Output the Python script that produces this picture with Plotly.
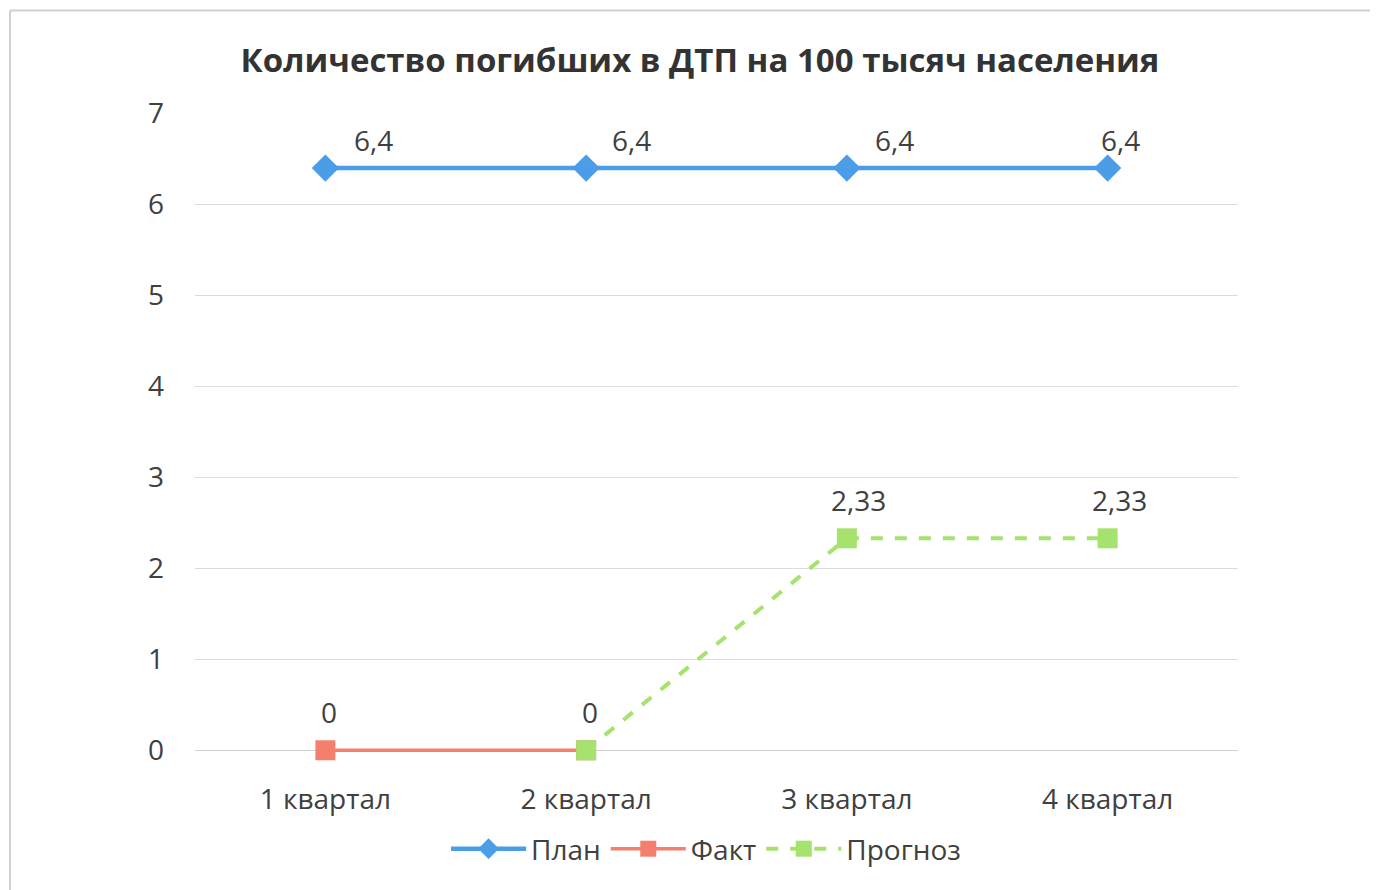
import plotly.graph_objects as go

categories = ["1 квартал", "2 квартал", "3 квартал", "4 квартал"]
plan = [6.4, 6.4, 6.4, 6.4]
fact = [0, 0, None, None]
forecast = [None, 0, 2.33, 2.33]
plan_labels = ["6,4", "6,4", "6,4", "6,4"]
fact_labels = ["0", "0", None, None]
forecast_labels = [None, None, "2,33", "2,33"]
title = "Количество погибших в ДТП на 100 тысяч населения"

FONT = "Open Sans"
TXT = "#404040"
C_PLAN = "#4A9DE6"
C_FACT = "#F47F6C"
C_FC = "#A6E26E"

x = list(range(len(categories)))

fig = go.Figure()
fig.add_trace(go.Scatter(x=x, y=plan, name="План", mode="lines+markers", cliponaxis=False,
                         line=dict(color=C_PLAN, width=4.5),
                         marker=dict(symbol="diamond", size=21, color=C_PLAN)))
fig.add_trace(go.Scatter(x=x, y=fact, name="Факт", mode="lines+markers", cliponaxis=False,
                         line=dict(color=C_FACT, width=3.5),
                         marker=dict(symbol="square", size=20, color=C_FACT)))
fig.add_trace(go.Scatter(x=x, y=forecast, name="Прогноз", mode="lines+markers", cliponaxis=False,
                         line=dict(color=C_FC, width=4, dash="dash"),
                         marker=dict(symbol="square", size=20, color=C_FC)))

annotations = []
plan_xshift = [48, 45, 48, 13]
for i, (v, t) in enumerate(zip(plan, plan_labels)):
    if t is not None:
        annotations.append(dict(x=x[i], y=v, text=t, showarrow=False, xshift=plan_xshift[i], yshift=28,
                                font=dict(family=FONT, size=28, color=TXT)))
for i, (v, t) in enumerate(zip(fact, fact_labels)):
    if t is not None:
        annotations.append(dict(x=x[i], y=v, text=t, showarrow=False, xshift=4, yshift=38,
                                font=dict(family=FONT, size=28, color=TXT)))
for i, (v, t) in enumerate(zip(forecast, forecast_labels)):
    if t is not None:
        annotations.append(dict(x=x[i], y=v, text=t, showarrow=False, xshift=12, yshift=38,
                                font=dict(family=FONT, size=28, color=TXT)))

fig.update_layout(
    width=1378, height=890,
    margin=dict(l=187, r=148, t=105, b=145),
    paper_bgcolor="white", plot_bgcolor="white",
    title=dict(text=f"<b>{title}</b>", x=692 / 1378, xanchor="center", y=1 - 52 / 890, yanchor="middle",
               font=dict(family=FONT, size=33, color="#333333")),
    xaxis=dict(tickmode="array", tickvals=x, ticktext=categories, range=[-0.5, 3.5],
               showgrid=False, zeroline=False, showline=False, ticks="",
               ticklabelstandoff=27,
               tickfont=dict(family=FONT, size=28, color=TXT)),
    yaxis=dict(range=[-0.03, 7.005], tickvals=[0, 1, 2, 3, 4, 5, 6, 7], showgrid=True, gridcolor="#DCDCDC", gridwidth=1,
               zeroline=True, zerolinecolor="#D0D0D0", zerolinewidth=1, ticks="",
               ticklabelstandoff=30,
               tickfont=dict(family=FONT, size=28, color=TXT)),
    legend=dict(orientation="h", x=0.49, xanchor="center", y=-0.15, yanchor="middle",
                font=dict(family=FONT, size=28, color=TXT), itemwidth=75),
    showlegend=True,
    annotations=annotations,
    shapes=[
        dict(type="line", xref="paper", yref="paper", x0=-0.1774, x1=1.15, y0=1.16, y1=1.16,
             line=dict(color="#D0D0D0", width=2)),
        dict(type="line", xref="paper", yref="paper", x0=-0.1774, x1=-0.1774, y0=1.16, y1=-0.25,
             line=dict(color="#D0D0D0", width=2)),
    ],
)

fig.write_html("out.html")
